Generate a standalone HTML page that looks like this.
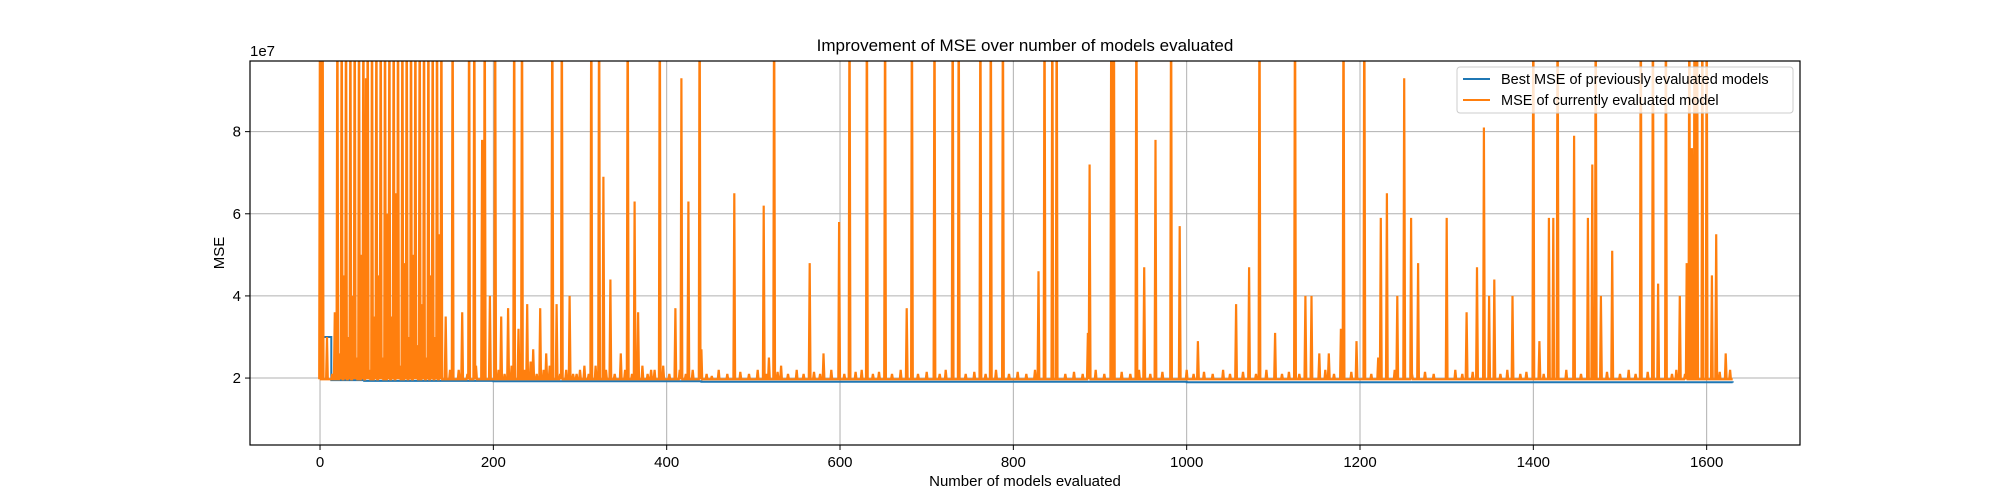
<!DOCTYPE html>
<html><head><meta charset="utf-8"><style>
body{margin:0;background:#fff;}
svg{display:block;font-family:"Liberation Sans","DejaVu Sans",sans-serif;}
</style></head><body>
<svg id="chart" width="2000" height="500" viewBox="0 0 2000 500">
<rect width="2000" height="500" fill="#fff"/>
<g id="grid"></g>
<g id="plot"></g>
<rect x="250" y="61" width="1550" height="384" fill="none" stroke="#000" stroke-width="1.2"/>
<g id="ticks"></g>
<text x="1025" y="51" font-size="17" text-anchor="middle">Improvement of MSE over number of models evaluated</text>
<text x="1025" y="486" font-size="15" text-anchor="middle">Number of models evaluated</text>
<text x="0" y="0" font-size="15" text-anchor="middle" transform="translate(224,253) rotate(-90)">MSE</text>
<text x="250" y="56" font-size="15">1e7</text>
<g>
<rect x="1457" y="67" width="336" height="46" rx="3" fill="#fff" fill-opacity="0.8" stroke="#ccc"/>
<line x1="1463" y1="79" x2="1490" y2="79" stroke="#1f77b4" stroke-width="2"/>
<text x="1501" y="84" font-size="14.5">Best MSE of previously evaluated models</text>
<line x1="1463" y1="100" x2="1490" y2="100" stroke="#ff7f0e" stroke-width="2"/>
<text x="1501" y="105" font-size="14.5">MSE of currently evaluated model</text>
</g>
</svg>
<script>
const xTicks=[0,200,400,600,800,1000,1200,1400,1600];
const yTicks=[2,4,6,8];
const bestIdx=[0,12,13,50,51,200,440,1000,1630];
const bestVal=[3.0,3.0,1.95,1.95,1.93,1.92,1.91,1.90,1.89];
const baseVal=1.97;
const spikeIdx=[0,3,8,14,17,20,23,25,28,30,33,35,38,40,42,45,48,50,53,55,57,60,63,65,68,70,72,75,78,80,83,85,88,90,92,95,98,100,103,105,108,110,112,115,118,120,123,125,128,130,133,135,138,140,145,150,153,164,172,178,187,190,196,202,209,217,224,229,233,239,246,254,261,268,273,279,288,296,305,313,322,327,335,347,355,363,367,382,392,410,417,425,438,440,478,512,518,524,532,565,581,599,611,631,652,677,683,709,730,737,762,774,788,829,836,845,850,886,888,913,916,942,951,964,982,992,1013,1057,1072,1084,1102,1125,1137,1144,1153,1164,1178,1181,1196,1205,1221,1224,1231,1243,1251,1259,1267,1300,1323,1335,1343,1349,1355,1376,1400,1407,1418,1423,1428,1447,1463,1468,1472,1478,1491,1524,1538,1544,1553,1569,1577,1580,1583,1586,1589,1595,1600,1606,1611,1622,1627];
const spikeVal=[12,12,3.0,2.1,3.6,12,2.6,12,4.5,12,3.0,12,4.0,12,2.5,12,5.0,12,9.3,12,2.2,12,3.5,12,4.5,12,2.5,12,6.0,12,3.5,12,6.5,12,2.3,12,4.8,12,3.0,12,5.0,12,2.8,12,3.8,12,2.5,12,4.5,12,3.0,12,5.5,12,3.5,2.2,12,3.6,12,12,7.8,12,4.0,12,3.5,3.7,12,3.2,12,3.8,2.7,3.7,2.6,12,3.8,12,4.0,2.1,2.3,12,12,6.9,4.4,2.6,12,6.3,3.6,2.2,12,3.7,9.3,6.3,12,2.7,6.5,6.2,2.5,12,2.3,4.8,2.6,5.8,12,12,12,3.7,12,12,12,12,12,12,12,4.6,12,12,12,3.1,7.2,12,12,12,4.7,7.8,12,5.7,2.9,3.8,4.7,12,3.1,12,4.0,4.0,2.6,2.6,3.2,12,2.9,12,2.5,5.9,6.5,4.0,9.3,5.9,4.8,5.9,3.6,4.7,8.1,4.0,4.4,4.0,12,2.9,5.9,5.9,12,7.9,5.9,7.2,12,4.0,5.1,12,12,4.3,12,4.0,4.8,12,7.6,12,12,12,12,4.5,5.5,2.6,2.2];
const minorIdx=[160,170,180,206,213,221,236,243,250,258,265,277,284,292,300,310,318,330,340,352,360,372,378,386,396,403,415,422,430,446,452,460,470,485,495,505,515,528,540,550,558,570,577,590,605,618,625,638,645,660,670,690,700,715,722,745,755,768,780,795,805,815,825,860,870,880,895,905,925,935,945,958,972,1000,1008,1020,1030,1042,1050,1065,1080,1092,1110,1118,1130,1160,1170,1190,1213,1240,1260,1275,1285,1310,1318,1330,1362,1370,1385,1392,1412,1438,1455,1485,1500,1510,1518,1532,1560,1565,1575,1615];
const minorVal=[2.2,2.1,2.3,2.2,2.1,2.3,2.2,2.4,2.1,2.2,2.3,2.1,2.2,2.1,2.2,2.1,2.3,2.2,2.1,2.2,2.1,2.3,2.1,2.2,2.3,2.1,2.2,2.1,2.2,2.1,2.05,2.2,2.1,2.15,2.1,2.2,2.1,2.15,2.1,2.2,2.1,2.15,2.1,2.2,2.1,2.15,2.2,2.1,2.15,2.1,2.2,2.1,2.15,2.1,2.2,2.1,2.15,2.1,2.2,2.1,2.15,2.1,2.2,2.1,2.15,2.1,2.2,2.1,2.15,2.1,2.2,2.1,2.15,2.2,2.1,2.15,2.1,2.2,2.1,2.15,2.1,2.2,2.1,2.15,2.1,2.2,2.1,2.15,2.1,2.2,2.1,2.15,2.1,2.2,2.1,2.15,2.1,2.2,2.1,2.15,2.1,2.2,2.1,2.15,2.1,2.2,2.1,2.15,2.1,2.2,2.1,2.15];
const X0=250,X1=1800,Y0=61,Y1=445,XMIN=-80.8,XMAX=1707.7,YMIN=0.37,YMAX=9.72;
const sx=v=>X0+(v-XMIN)/(XMAX-XMIN)*(X1-X0);
const sy=v=>Y1-(v-YMIN)/(YMAX-YMIN)*(Y1-Y0);
const NS='http://www.w3.org/2000/svg';
function mk(t,a,p){const e=document.createElementNS(NS,t);for(const k in a)e.setAttribute(k,a[k]);p.appendChild(e);return e;}
const grid=document.getElementById('grid'),ticks=document.getElementById('ticks'),plot=document.getElementById('plot');
xTicks.forEach(t=>{const x=sx(t);
 const g=mk('line',{x1:x,x2:x,y1:Y0,y2:Y1,stroke:'#b0b0b0','stroke-width':1},grid);
 
 
 const k=mk('line',{x1:x,x2:x,y1:Y1,y2:Y1+5,stroke:'#000'},ticks);
 
 
 const l=mk('text',{x:x,y:Y1+22,'font-size':15,'text-anchor':'middle'},ticks);l.textContent=t;
 
 
});
yTicks.forEach(t=>{const y=sy(t);
 const g=mk('line',{x1:X0,x2:X1,y1:y,y2:y,stroke:'#b0b0b0','stroke-width':1},grid);
 
 
 const k=mk('line',{x1:X0-5,x2:X0,y1:y,y2:y,stroke:'#000'},ticks);
 
 
 const l=mk('text',{x:X0-9,y:y+5,'font-size':15,'text-anchor':'end'},ticks);l.textContent=t;
 
 
});
const pts=[];
spikeIdx.forEach((i,k)=>pts.push([i,spikeVal[k]]));
minorIdx.forEach((i,k)=>pts.push([i,minorVal[k]]));
pts.sort((a,b)=>a[0]-b[0]);
let d='',prev=-10;
const tp=[];
pts.forEach(([i,v])=>{ if(i-prev>1) tp.push([i-1,baseVal]); tp.push([i,v]); tp.push([i+1,baseVal]); prev=i+1;});
tp.push([1630,baseVal]);
tp.forEach(([i,v],k)=>{d+=(k?'L':'M')+sx(i).toFixed(1)+','+sy(v).toFixed(1);});
const clip=mk('clipPath',{id:'cp'},plot);mk('rect',{x:X0,y:Y0,width:X1-X0,height:Y1-Y0},clip);
const b=mk('path',{d:'',fill:'none',stroke:'#1f77b4','stroke-width':2},plot);
let bd='';
bestIdx.forEach((i,k)=>{ if(k>0) bd+='L'+sx(i).toFixed(1)+','+sy(bestVal[k-1]).toFixed(1); bd+=(k?'L':'M')+sx(i).toFixed(1)+','+sy(bestVal[k]).toFixed(1);});
b.setAttribute('d',bd);


const o=mk('path',{d:d,fill:'none',stroke:'#ff7f0e','stroke-width':2.2,'clip-path':'url(#cp)'},plot);


</script>
</body></html>
